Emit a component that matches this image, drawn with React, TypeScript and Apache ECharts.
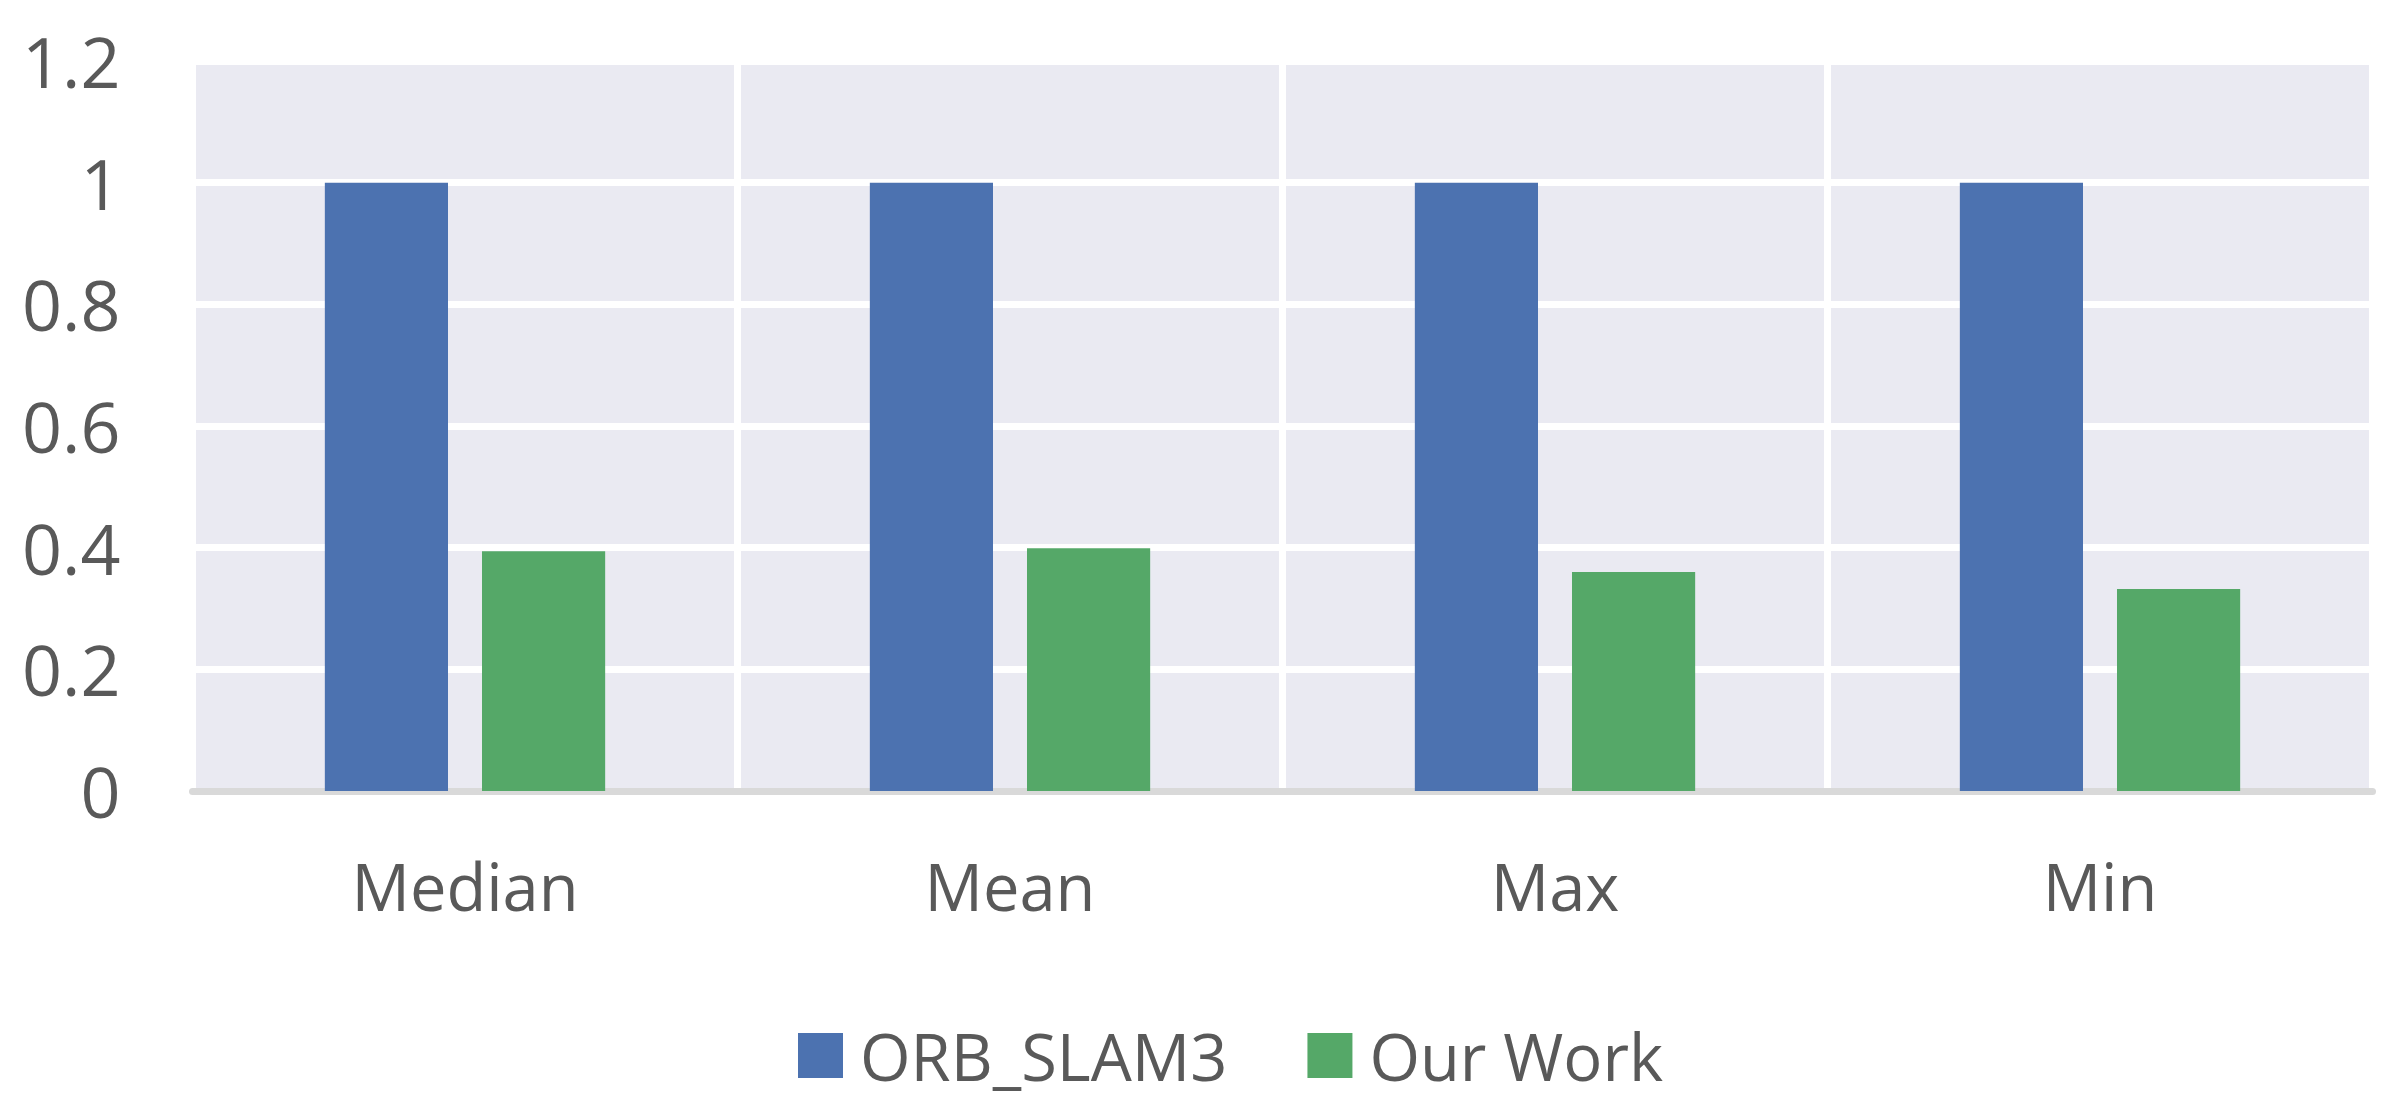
import React, { useEffect, useRef } from 'react';
import * as echarts from 'echarts';

const categories = ['Median', 'Mean', 'Max', 'Min'];
const orbSlam3 = [1, 1, 1, 1];
const ourWork = [0.394, 0.399, 0.36, 0.332];
const seriesNames = ['ORB_SLAM3', 'Our Work'];

const FONT = '"Open Sans", sans-serif';
const TEXT = '#595959';

const App = () => {
  const chartRef = useRef<HTMLDivElement>(null);

  useEffect(() => {
    document.body.style.margin = '0';
    if (!chartRef.current) return;
    const chart = echarts.init(chartRef.current, null, { renderer: 'svg' });

    const option: echarts.EChartsOption = {
      animation: false,
      textStyle: { fontFamily: FONT, color: TEXT },
      grid: {
        left: 192.5,
        right: 27.5,
        top: 61,
        bottom: 322,
        show: true,
        backgroundColor: '#eaeaf2',
        borderWidth: 0,
      },
      legend: {
        data: seriesNames,
        left: 793,
        top: 1018,
        icon: 'rect',
        itemWidth: 45,
        itemHeight: 45,
        itemGap: 80,
        textStyle: {
          fontFamily: FONT,
          fontSize: 65,
          color: TEXT,
          padding: [0, 0, 0, 12],
        },
      },
      xAxis: {
        type: 'category',
        data: categories,
        axisTick: { show: false },
        axisLine: { show: true, lineStyle: { color: '#d9d9d9', width: 7 } },
        axisLabel: { fontFamily: FONT, fontSize: 65, color: TEXT, margin: 62 },
        splitLine: { show: true, interval: 0, lineStyle: { color: '#ffffff', width: 7 } },
      },
      yAxis: {
        type: 'value',
        min: 0,
        max: 1.2,
        interval: 0.2,
        axisLine: { show: false },
        axisTick: { show: false },
        axisLabel: { fontFamily: FONT, fontSize: 70, color: TEXT, margin: 72 },
        splitLine: { show: true, lineStyle: { color: '#ffffff', width: 7 } },
      },
      series: [
        {
          name: seriesNames[0],
          type: 'bar',
          data: orbSlam3,
          barWidth: '22.6%',
          barGap: '27.6%',
          itemStyle: { color: '#4c72b0' },
        },
        {
          name: seriesNames[1],
          type: 'bar',
          data: ourWork,
          barWidth: '22.6%',
          barGap: '27.6%',
          itemStyle: { color: '#55a868' },
        },
      ],
    };
    chart.setOption(option);

    return () => {
      chart.dispose();
    };
  }, []);

  return <div ref={chartRef} style={{ width: '2400px', height: '1113px' }} />;
};

export default App;
